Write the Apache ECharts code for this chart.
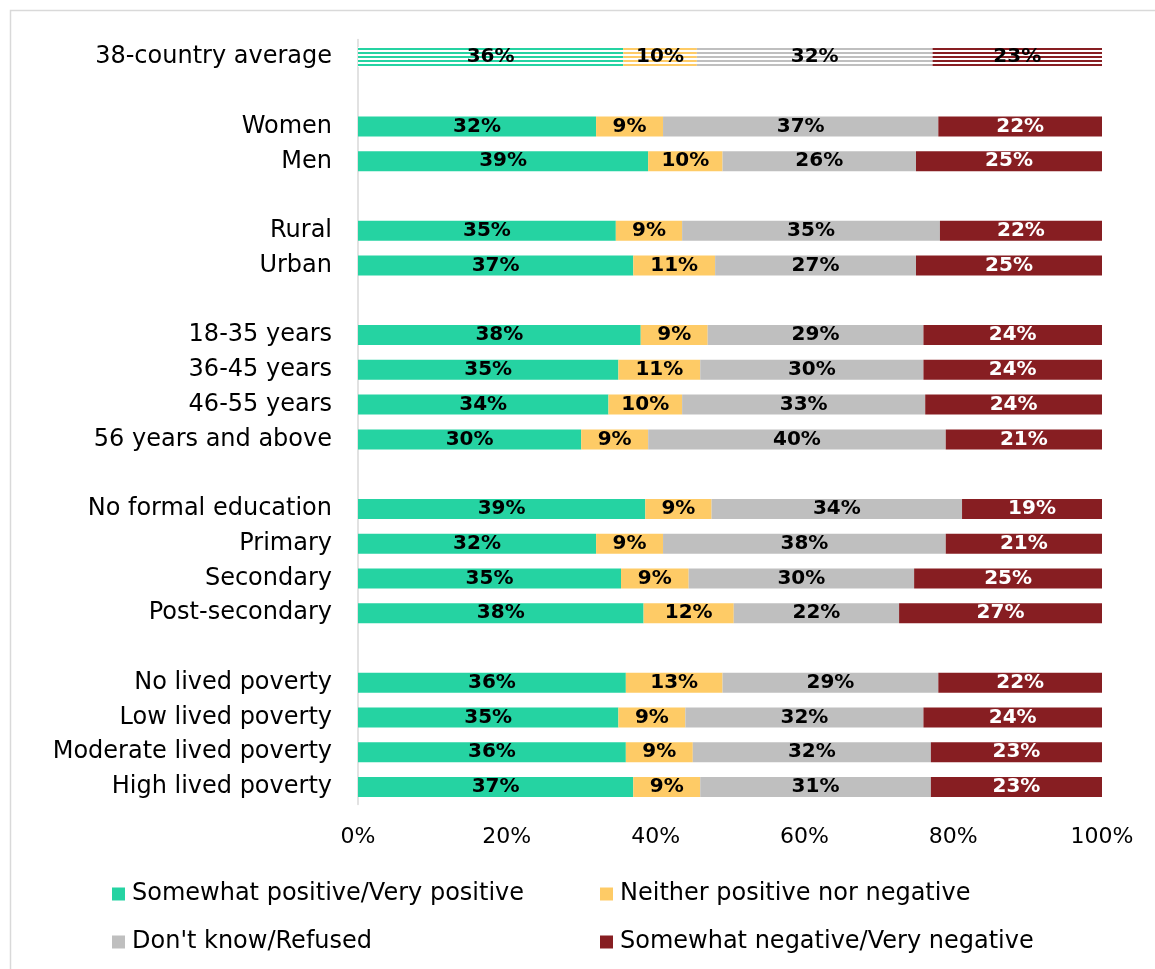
<!DOCTYPE html>
<html>
<head>
<meta charset="utf-8">
<script src="https://cdn.jsdelivr.net/npm/echarts@6/dist/echarts.min.js"></script>
<style>
html,body{margin:0;padding:0;background:#fff;}
#chart{width:1155px;height:969px;}
</style>
</head>
<body>
<div id="chart"></div>
<script>
// Rows (blank strings = spacer rows between groups)
const categories = [
  '38-country average', ' ',
  'Women', 'Men', '  ',
  'Rural', 'Urban', '   ',
  '18-35 years', '36-45 years', '46-55 years', '56 years and above', '    ',
  'No formal education', 'Primary', 'Secondary', 'Post-secondary', '     ',
  'No lived poverty', 'Low lived poverty', 'Moderate lived poverty', 'High lived poverty'
];
const seriesNames = ['Somewhat positive/Very positive', 'Neither positive nor negative', "Don't know/Refused", 'Somewhat negative/Very negative'];
const positive = [36, null, 32, 39, null, 35, 37, null, 38, 35, 34, 30, null, 39, 32, 35, 38, null, 36, 35, 36, 37];
const neutral  = [10, null, 9, 10, null, 9, 11, null, 9, 11, 10, 9, null, 9, 9, 9, 12, null, 13, 9, 9, 9];
const dontKnow = [32, null, 37, 26, null, 35, 27, null, 29, 30, 33, 40, null, 34, 38, 30, 22, null, 29, 32, 32, 31];
const negative = [23, null, 22, 25, null, 22, 25, null, 24, 24, 24, 21, null, 19, 21, 25, 27, null, 22, 24, 23, 23];
const xTicks = ['0%', '20%', '40%', '60%', '80%', '100%'];

const colors = ['#25D3A2', '#FECB66', '#BFBFBF', '#871E22'];
const labelColors = ['#000', '#000', '#000', '#fff'];
const raw = [positive, neutral, dontKnow, negative];

function stripe(color) {
  const c = document.createElement('canvas');
  c.width = 4; c.height = 4;
  const ctx = c.getContext('2d');
  ctx.fillStyle = '#ffffff';
  ctx.fillRect(0, 0, 4, 4);
  ctx.fillStyle = color;
  ctx.fillRect(0, 0, 4, 2);
  return { image: c, repeat: 'repeat' };
}

const totals = categories.map((_, i) => raw.reduce((s, arr) => s + (arr[i] || 0), 0));

const FONT = '"DejaVu Sans", sans-serif';

const series = raw.map((arr, k) => ({
  name: seriesNames[k],
  type: 'bar',
  stack: 'total',
  barWidth: 20,
  itemStyle: { color: colors[k] },
  label: {
    show: true,
    position: 'inside',
    color: labelColors[k],
    fontFamily: FONT,
    fontWeight: 'bold',
    fontSize: 20,
    formatter: p => (arr[p.dataIndex] == null ? '' : arr[p.dataIndex] + '%')
  },
  data: arr.map((v, i) => {
    if (v == null) return null;
    const share = v / totals[i] * 100;
    if (i === 0) return { value: share, itemStyle: { color: stripe(colors[k]) }, label: { color: '#000' } };
    return share;
  })
}));

const legends = seriesNames.map((n, k) => ({
  data: [n],
  left: k % 2 === 0 ? 107 : 595,
  top: k < 2 ? 877 : 925,
  icon: 'rect',
  itemWidth: 13,
  itemHeight: 13,
  itemGap: 0,
  textStyle: { fontFamily: FONT, fontSize: 24, color: '#000', padding: [0, 0, 0, 2] }
}));

const chart = echarts.init(document.getElementById('chart'));
chart.setOption({
  animation: false,
  backgroundColor: '#fff',
  color: colors,
  graphic: [{
    type: 'rect',
    shape: { x: 10.5, y: 10.5, width: 1160, height: 980 },
    style: { fill: 'none', stroke: '#D9D9D9', lineWidth: 1.5 },
    silent: true
  }],
  legend: legends,
  grid: { left: 358, right: 53, top: 39.6, bottom: 164.6, containLabel: false },
  xAxis: {
    type: 'value',
    min: 0, max: 100, interval: 20,
    axisLine: { show: false },
    axisTick: { show: false },
    splitLine: { show: false },
    axisLabel: {
      margin: 22,
      fontFamily: FONT, fontSize: 22, color: '#000',
      formatter: v => xTicks[v / 20]
    }
  },
  yAxis: {
    type: 'category',
    inverse: true,
    data: categories,
    axisLine: { show: true, lineStyle: { color: '#D9D9D9', width: 1.5 } },
    axisTick: { show: false },
    axisLabel: { margin: 26, fontFamily: FONT, fontSize: 24, color: '#000' }
  },
  series: series
});
</script>
</body>
</html>
